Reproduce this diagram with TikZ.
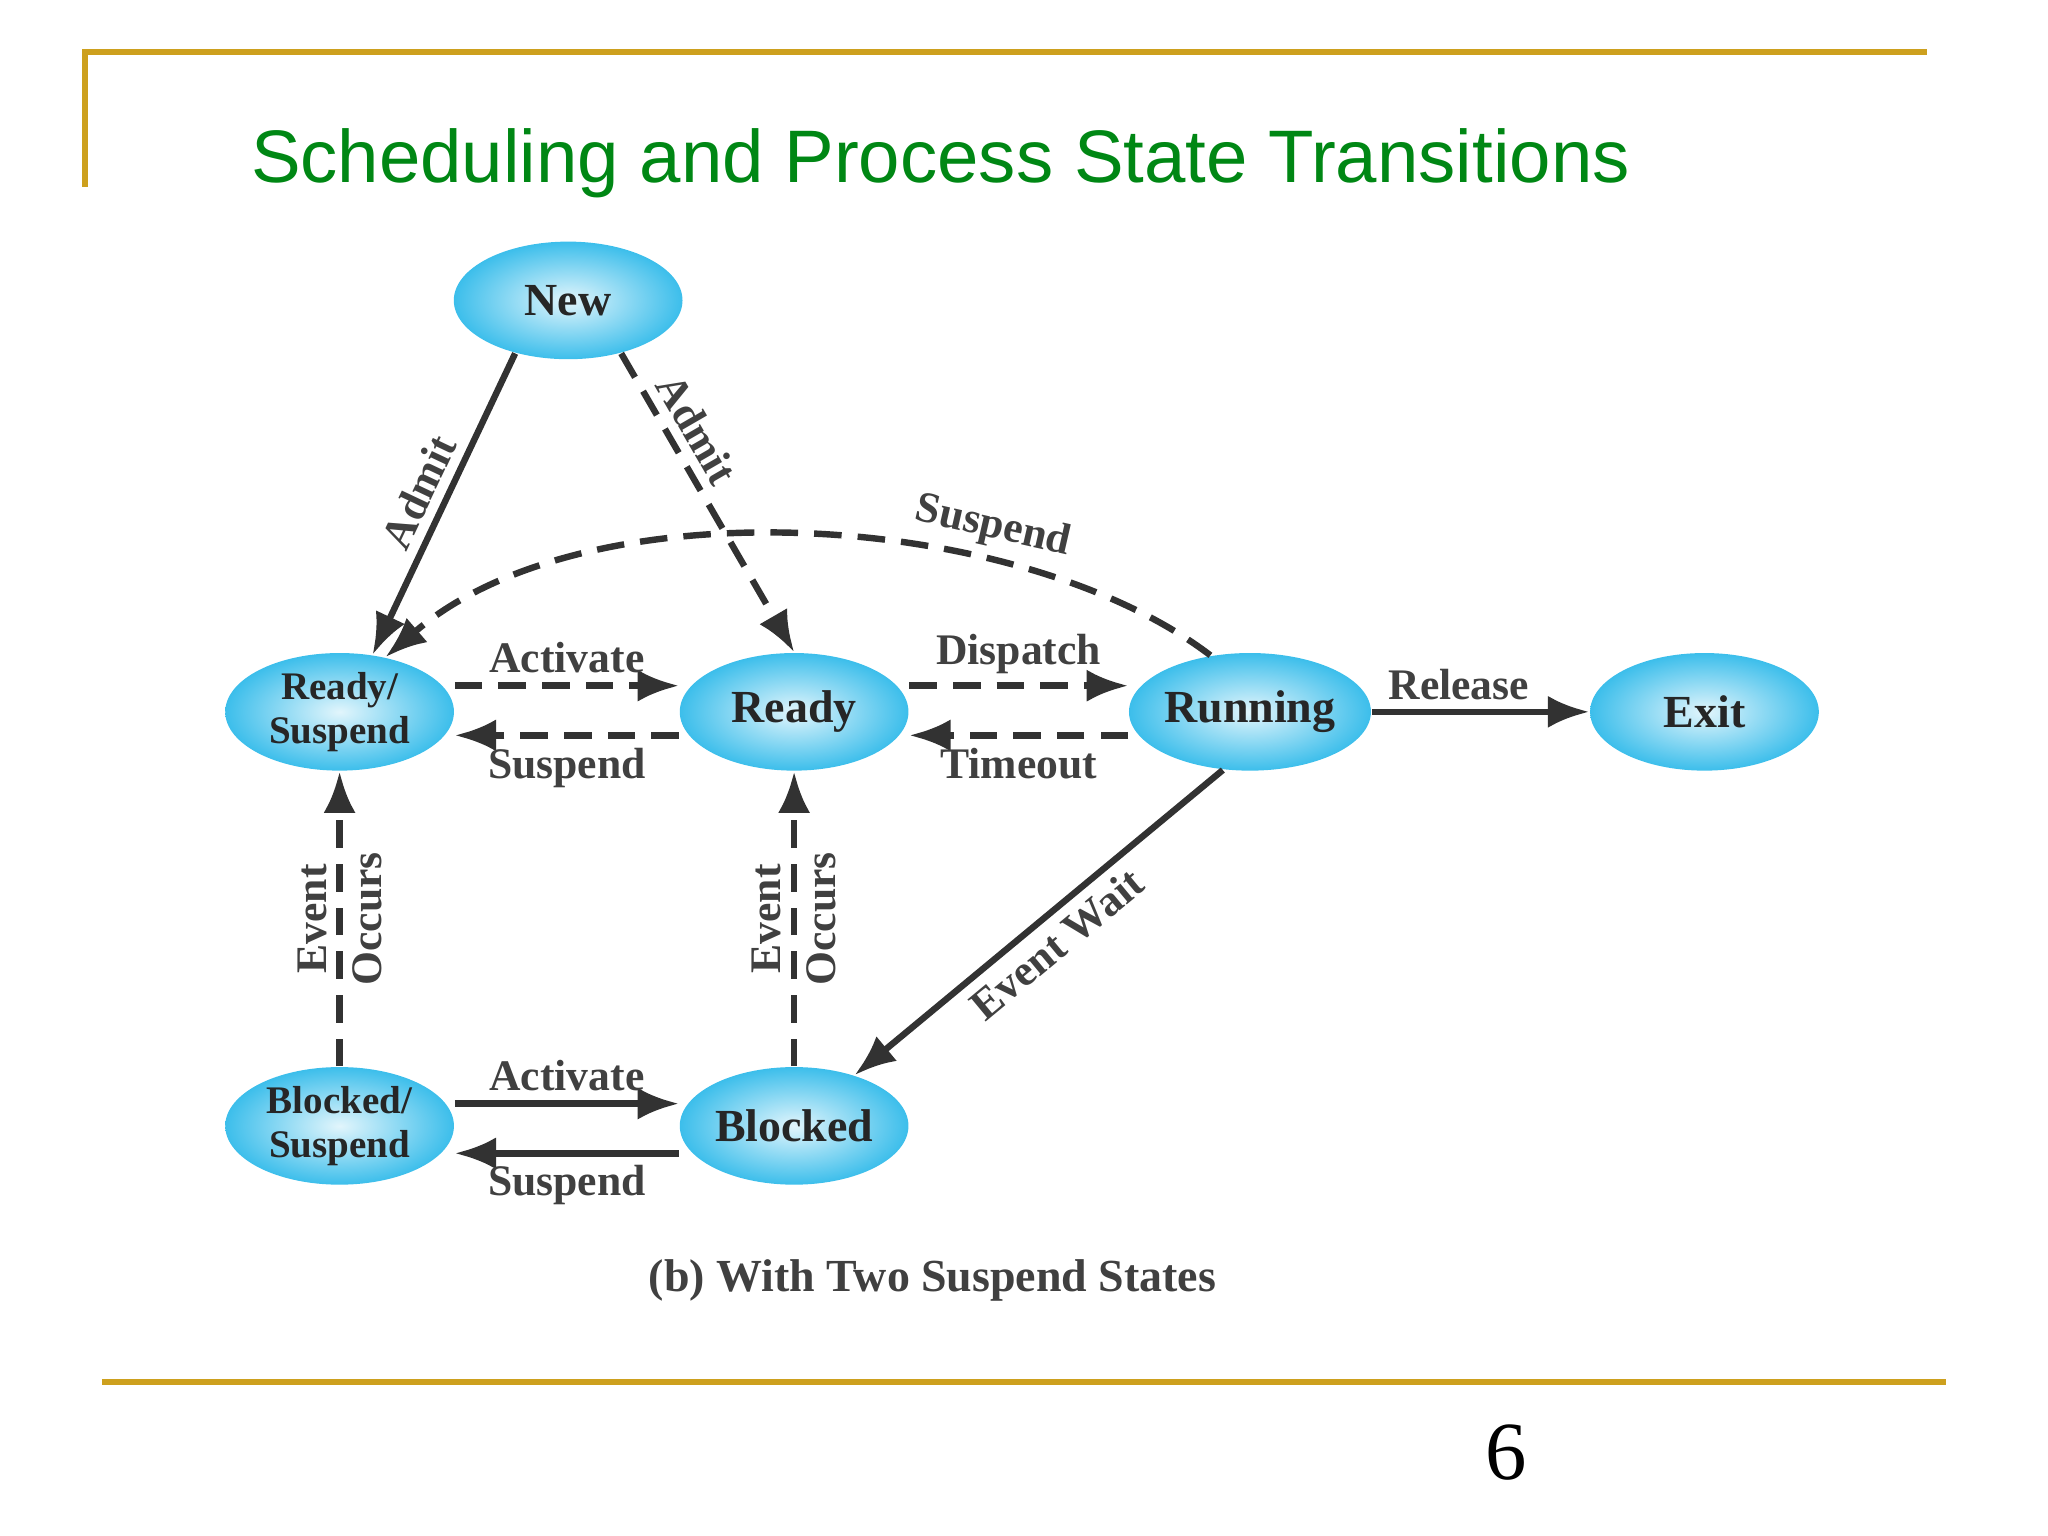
\documentclass[tikz,border=0pt]{standalone}
\usepackage{fontspec}
\setmainfont{Liberation Serif}
\newfontfamily\arialf{Liberation Sans}
\usetikzlibrary{arrows.meta,shapes.geometric}
\definecolor{gold}{RGB}{205,160,30}
\definecolor{titlegreen}{RGB}{0,135,20}
\definecolor{lineg}{RGB}{50,50,50}
\definecolor{cyanb}{RGB}{60,190,235}
\tikzset{
  st/.style={ellipse,minimum width=1.75cm,minimum height=0.9cm,inner sep=0pt,
    shading=radial,inner color=white!85!cyanb,outer color=cyanb,
    font=\fontsize{10}{11}\selectfont\bfseries,text=black!85,align=center},
  sst/.style={st,font=\fontsize{8.5}{9.5}\selectfont\bfseries},
  tr/.style={draw=lineg,line width=1.4pt,-{Latex[length=9pt,width=7pt]}},
  dsh/.style={tr,dash pattern=on 6pt off 3.5pt},
  lb/.style={font=\fontsize{9.5}{11}\selectfont\bfseries,text=black!75,inner sep=2pt},
}
\begin{document}
\begin{tikzpicture}[x=0.01cm,y=-0.01cm]
\useasboundingbox (0,0) rectangle (1568,1176);
\draw[gold,line width=1.3pt] (65,143) -- (65,40) -- (1475,40);
\draw[gold,line width=1.3pt] (78,1058) -- (1490,1058);
\node[text=titlegreen,font=\arialf\fontsize{16.2}{20}\selectfont] (title) at (720,125) {Scheduling and Process State Transitions};
\node[font=\fontsize{18}{20}\selectfont] (pg) at (1153,1112) {6};

\node[st] (new) at (435,230) {New};
\node[sst] (rs) at (260,545) {Ready/\\Suspend};
\node[st] (ready) at (608,545) {Ready};
\node[st] (run) at (957,545) {Running};
\node[st] (exit) at (1305,545) {Exit};
\node[sst] (bs) at (260,862) {Blocked/\\Suspend};
\node[st] (blk) at (608,862) {Blocked};

\draw[tr] (new.225) -- node[lb,sloped,above] {Admit} (rs.60);
\draw[dsh] (new.315) -- node[lb,sloped,above,pos=0.3] {Admit} (ready.90);
\draw[dsh] (run.125) .. controls (780,390) and (450,370) .. node[lb,sloped,above,pos=0.3] {Suspend} (rs.50);
\draw[dsh] (rs.east |- 0,525) -- node[lb,above] {Activate} (ready.west |- 0,525);
\draw[dsh] (ready.west |- 0,563) -- node[lb,below] {Suspend} (rs.east |- 0,563);
\draw[dsh] (ready.east |- 0,525) -- node[lb,above] {Dispatch} (run.west |- 0,525);
\draw[dsh] (run.west |- 0,563) -- node[lb,below] {Timeout} (ready.east |- 0,563);
\draw[tr] (run) -- node[lb,above,pos=0.4] {Release} (exit);
\draw[tr] (run.245) -- node[lb,sloped,below] {Event Wait} (blk.40);
\draw[dsh] (bs) -- node[lb,rotate=90,align=center,font=\fontsize{9.5}{12}\selectfont\bfseries] {Event\\Occurs} (rs);
\draw[dsh] (blk) -- node[lb,rotate=90,align=center,font=\fontsize{9.5}{12}\selectfont\bfseries] {Event\\Occurs} (ready);
\draw[tr] (bs.east |- 0,845) -- node[lb,above] {Activate} (blk.west |- 0,845);
\draw[tr] (blk.west |- 0,883) -- node[lb,below] {Suspend} (bs.east |- 0,883);
\node[lb,font=\fontsize{10}{12}\selectfont\bfseries] (cap) at (714,980) {(b) With Two Suspend States};
\end{tikzpicture}
\end{document}
